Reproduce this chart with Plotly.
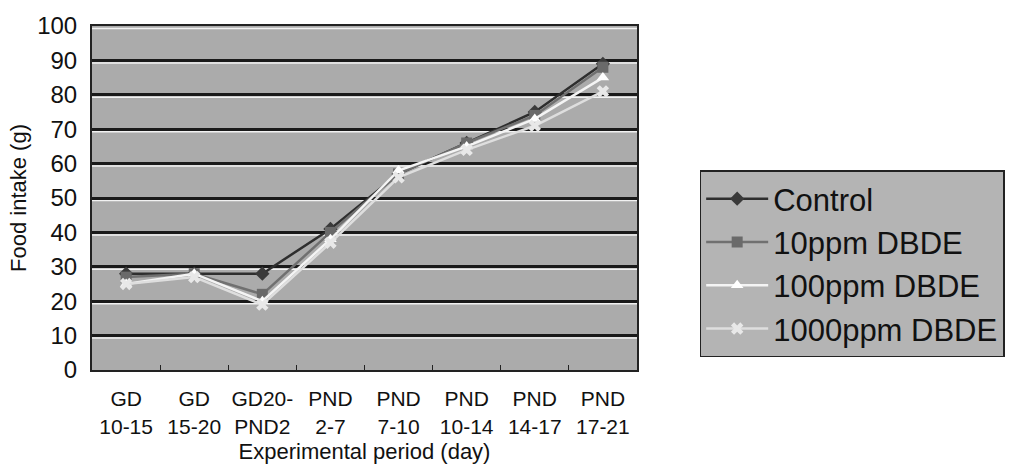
import plotly.graph_objects as go

periods = ["GD<br>10-15", "GD<br>15-20", "GD20-<br>PND2", "PND<br>2-7",
           "PND<br>7-10", "PND<br>10-14", "PND<br>14-17", "PND<br>17-21"]
control = [28, 28, 28, 41, 57, 66, 75, 89]
ppm10 = [27, 28, 22, 40, 57, 66, 74, 88]
ppm100 = [25, 28, 20, 38, 58, 65, 73, 85]
ppm1000 = [25, 27, 19, 37, 56, 64, 71, 81]
y_ticks = list(range(0, 101, 10))

series = [
    ("Control", control, "#2e2e2e", "diamond", "#3a3a3a"),
    ("10ppm DBDE", ppm10, "#707070", "square", "#6a6a6a"),
    ("100ppm DBDE", ppm100, "#f4f4f4", "triangle-up", "#ffffff"),
    ("1000ppm DBDE", ppm1000, "#dedede", "x", "#e8e8e8"),
]

fig = go.Figure()
for name, vals, lc, sym, mc in series:
    fig.add_trace(go.Scatter(
        x=periods, y=vals, name=name, mode="lines+markers",
        line=dict(color=lc, width=2.5),
        marker=dict(symbol=sym, size=11, color=mc, line=dict(width=0)),
    ))

# white highlight just below each dark gridline
for v in y_ticks[1:]:
    fig.add_shape(type="line", xref="paper", x0=0, x1=1, yref="y",
                  ysizemode="pixel", yanchor=v, y0=-2.5, y1=-2.5,
                  line=dict(color="#f2f2f2", width=1.5), layer="below")

font = "Liberation Sans, Arial, sans-serif"
fig.update_layout(
    width=1028, height=472,
    margin=dict(l=92, r=391, t=18, b=101),
    paper_bgcolor="white",
    plot_bgcolor="#ababab",
    font=dict(family=font, size=21, color="#111"),
    showlegend=True,
    legend=dict(
        x=1.115, y=0.58, xanchor="left", yanchor="top",
        bgcolor="#b4b4b4", bordercolor="#222", borderwidth=1.5,
        font=dict(size=31, color="#111"),
        itemwidth=62,
    ),
    xaxis=dict(
        type="category", tickson="boundaries", ticks="inside", ticklen=5,
        tickcolor="#222", showgrid=False, showline=True, linecolor="#222",
        linewidth=2, mirror=True, tickfont=dict(size=21), tickangle=0,
        ticklabelstandoff=9,
        title=dict(text="Experimental period (day)", font=dict(size=22), standoff=7),
    ),
    yaxis=dict(
        range=[0, 100], tickvals=y_ticks, showgrid=True, gridcolor="#1a1a1a",
        gridwidth=2.5, showline=True, linecolor="#222", linewidth=2, mirror=True,
        ticks="", zeroline=False, tickfont=dict(size=24), ticklabelstandoff=8,
        title=dict(text="Food intake (g)", font=dict(size=22), standoff=4),
    ),
)

fig.write_html("out.html")
